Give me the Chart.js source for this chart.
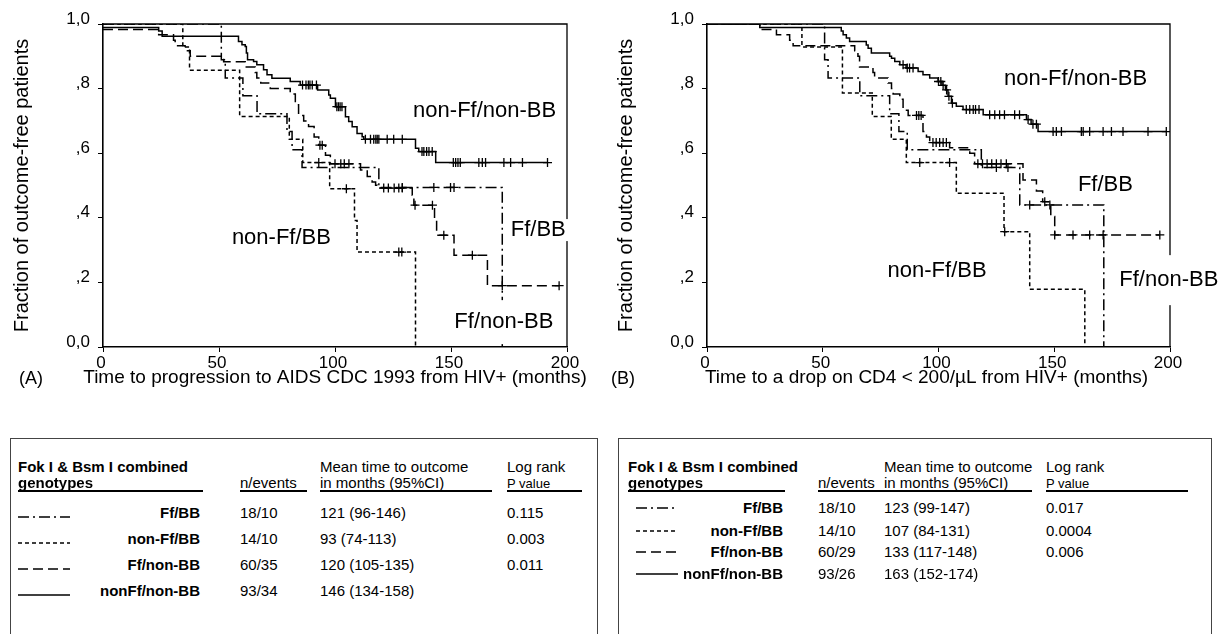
<!DOCTYPE html>
<html>
<head>
<meta charset="utf-8">
<script src="https://cdn.jsdelivr.net/npm/chart.js@4.4.0/dist/chart.umd.min.js"></script>
<style>
  body { margin: 0; background: #fff; }
  #page { position: relative; width: 1221px; height: 634px; overflow: hidden;
          font-family: "Liberation Sans", Arial, sans-serif; color: #000; }
  .panel { position: absolute; top: 0; height: 400px; }
  .tag { position: absolute; font-size: 18px; transform: translateY(-50%); }
  .tbl { position: absolute; top: 438px; height: 220px; border: 1.5px solid #444; box-sizing: border-box; }
  .t { position: absolute; font-size: 15px; white-space: nowrap; line-height: 17px; transform: translateY(-50%); }
  .b { font-weight: bold; }
  .r { transform: translate(-100%, -50%); }
  .small { font-size: 13px; }
  .rule { position: absolute; height: 1.5px; background: #000; }
</style>
</head>
<body>
<div id="page">
  <div class="panel" style="left:0;width:600px"><canvas id="chartA"></canvas></div>
  <div class="panel" style="left:604px;width:617px"><canvas id="chartB"></canvas></div>
  <div class="tag" style="left:19px;top:378px">(A)</div>
  <div class="tag" style="left:611px;top:378px">(B)</div>
  <div class="tbl" style="left:10px;width:588px"></div>
  <div class="tbl" style="left:618px;width:594px"></div>
</div>
<script>
// ---------------- data ----------------
// t = event times (months), s = survival level after that time, c = censor times

// (A) progression to AIDS
const aFfBB_t = [0, 51, 52.7, 60.3, 66.4, 79.3, 81.5, 85.8, 118.9, 172.1];
const aFfBB_s = [1, 0.889, 0.833, 0.778, 0.722, 0.667, 0.611, 0.556, 0.494, 0];
const aFfBB_c = [129, 142.6, 149.8, 151.3];

const aNonFfBB_t = [0, 34.4, 37.3, 58.9, 80.3, 86.1, 97.7, 108.4, 109.5, 134.7];
const aNonFfBB_s = [1, 0.929, 0.857, 0.714, 0.643, 0.571, 0.49, 0.392, 0.294, 0];
const aNonFfBB_c = [93, 104.9, 127.5, 128.8];

const aFfNonBB_t = [0, 24, 30.4, 31.1, 35.4, 37.6, 52, 61.3, 65.6, 66.3, 68, 72.1, 80.7, 82.9, 84.3, 86.5,
  88.6, 91, 93, 95.9, 98, 111, 113.9, 116, 117.5, 118.2, 133.3, 134, 142.9, 143.8, 151.3, 165.7];
const aFfNonBB_s = [0.983, 0.967, 0.95, 0.933, 0.917, 0.9, 0.883, 0.867, 0.85, 0.833, 0.817, 0.8, 0.783, 0.75, 0.717, 0.7,
  0.683, 0.65, 0.625, 0.594, 0.567, 0.548, 0.528, 0.511, 0.501, 0.492, 0.47, 0.439, 0.393, 0.346, 0.284, 0.19];
const aFfNonBB_c = [93.5, 94.5, 100, 102.5, 104, 106, 121, 123, 125.5, 127.5, 129, 134.5, 142, 146.9, 159.2, 172.1, 196.6];

const aNonFfNonBB_t = [0, 24, 25.5, 58.4, 59.9, 61.3, 61.8, 62.3, 64.9, 66.3, 69.2, 70.7, 72.8, 80.7, 85, 92.5, 97.3,
  98, 100.2, 104.5, 105.9, 107.4, 109.5, 111.7, 112.4, 134.7, 136.1, 143.4];
const aNonFfNonBB_s = [0.989, 0.978, 0.962, 0.946, 0.936, 0.93, 0.91, 0.889, 0.884, 0.874, 0.858, 0.843, 0.832, 0.822,
  0.811, 0.796, 0.78, 0.77, 0.744, 0.713, 0.698, 0.682, 0.661, 0.651, 0.643, 0.615, 0.605, 0.571];
const aNonFfNonBB_c = [86, 87.5, 88.5, 89.2, 90.2, 92, 100.8, 101.5, 102.2, 103, 113.1, 115.3, 116.7, 117.6, 118.2,
  118.9, 122.5, 125.3, 129, 137.5, 138.3, 139.5, 140.5, 141.9, 151, 152, 153, 154, 162, 163.5, 164.9, 172.8, 175.7,
  180.8, 191.6];

// (B) drop of CD4 < 200/uL
const bFfBB_t = [0, 50.8, 52.3, 66, 78.9, 82.9, 86.5, 118.5, 135.1, 171.4];
const bFfBB_s = [1, 0.889, 0.833, 0.778, 0.722, 0.667, 0.611, 0.556, 0.44, 0];
const bFfBB_c = [125, 130, 139.4, 148.1];

const bNonFfBB_t = [0, 41, 58.5, 71.4, 79.6, 86.1, 107.7, 128.3, 139.4, 163.2];
const bNonFfBB_s = [1, 0.929, 0.786, 0.714, 0.643, 0.571, 0.476, 0.357, 0.179, 0];
const bNonFfBB_c = [91.9, 104.8, 128.6];

const bFfNonBB_t = [0, 22.8, 30, 35.7, 37.2, 63.8, 65.2, 65.9, 71.7, 72.4, 78.2, 79.7, 80.4, 83.3, 84.7, 86.9, 93.3,
  94.8, 96.2, 104.8, 113.5, 115.6, 136.5, 142.3, 145, 148.5, 150.2];
const bFfNonBB_s = [1, 0.983, 0.967, 0.95, 0.933, 0.917, 0.9, 0.867, 0.85, 0.833, 0.817, 0.8, 0.783, 0.767, 0.733,
  0.717, 0.667, 0.65, 0.633, 0.617, 0.6, 0.567, 0.517, 0.483, 0.45, 0.404, 0.347];
const bFfNonBB_c = [90.5, 91.5, 92.5, 97.6, 99, 100.5, 102, 103.4, 117, 119, 121, 123, 125, 127, 129.3, 145.9, 150.2,
  158.1, 165.3, 171.1, 195.6];

const bNonFfNonBB_t = [0, 22.8, 58, 58.8, 60.2, 61.6, 68.8, 69.6, 71, 78.9, 79.7, 81.1, 83.3, 86, 91.2, 93.3, 96.2,
  99.8, 101.5, 103, 104.1, 105.6, 107.7, 110.6, 119.3, 138, 140, 143];
const bNonFfNonBB_s = [1, 0.989, 0.978, 0.967, 0.957, 0.946, 0.935, 0.925, 0.91, 0.9, 0.894, 0.884, 0.874, 0.864,
  0.853, 0.843, 0.833, 0.822, 0.81, 0.796, 0.776, 0.755, 0.745, 0.735, 0.719, 0.704, 0.69, 0.667];
const bNonFfNonBB_c = [84.7, 86.5, 87.5, 89, 100, 101, 102, 103.5, 104.5, 106, 112, 113.5, 115, 116, 117.5, 122.1,
  124.3, 126.4, 128.5, 132.9, 135, 138.7, 140.8, 142.3, 149.5, 150.9, 153.1, 161.7, 162.5, 165.3, 171.1, 174.7,
  179.7, 190.5, 198.4];

const yTickLabels = ['0,0', ',2', ',4', ',6', ',8', '1,0'];
const yTitle = 'Fraction of outcome-free patients';
const xTitleA = 'Time to progression to AIDS CDC 1993 from HIV+ (months)';
const xTitleB = 'Time to a drop on CD4 < 200/\u00b5L from HIV+ (months)';

// table content
const tblGeno = ['Ff/BB', 'non-Ff/BB', 'Ff/non-BB', 'nonFf/non-BB'];
const plotNames = ['Ff/BB', 'non-Ff/BB', 'Ff/non-BB', 'non-Ff/non-BB'];
const tblA_n = ['18/10', '14/10', '60/35', '93/34'];
const tblA_mean = ['121 (96-146)', '93 (74-113)', '120 (105-135)', '146 (134-158)'];
const tblA_p = ['0.115', '0.003', '0.011', ''];
const tblB_n = ['18/10', '14/10', '60/29', '93/26'];
const tblB_mean = ['123 (99-147)', '107 (84-131)', '133 (117-148)', '163 (152-174)'];
const tblB_p = ['0.017', '0.0004', '0.006', ''];

// line styles, same order as the genotypes
const dashes = [[11, 4, 2, 4], [4, 3], [10, 5], []];

// ---------------- helpers ----------------
function levelAt(t, s, x) {
  let v = s[0];
  for (let i = 0; i < t.length; i++) if (t[i] <= x) v = s[i];
  return v;
}
function kmLine(t, s, c) {
  const pts = t.map((x, i) => ({ x: x, y: s[i] }));
  const end = Math.max(t[t.length - 1], ...c);
  if (end > t[t.length - 1]) pts.push({ x: end, y: s[s.length - 1] });
  return pts;
}
function kmCens(t, s, c) {
  return c.map(x => ({ x: x, y: levelAt(t, s, x) }));
}

const FONT = '"Liberation Sans", Arial, sans-serif';
Chart.defaults.font.family = FONT;
Chart.defaults.color = '#000';

// frame on top/right, x title (not squeezed to the axis width), text labels with a white box behind
const plotText = {
  id: 'plotText',
  afterDatasetsDraw(chart, args, opts) {
    const { ctx, chartArea: a, scales } = chart;
    ctx.save();
    ctx.strokeStyle = '#000';
    ctx.lineWidth = 1.3;
    ctx.beginPath();
    ctx.moveTo(a.left, a.top);
    ctx.lineTo(a.right, a.top);
    ctx.lineTo(a.right, a.bottom);
    ctx.stroke();
    ctx.textAlign = 'center';
    ctx.textBaseline = 'middle';
    ctx.fillStyle = '#000';
    ctx.font = '19px ' + FONT;
    ctx.fillText(opts.title, (a.left + a.right) / 2 + opts.titleShift, a.bottom + 31);
    ctx.font = '22px ' + FONT;
    (opts.items || []).forEach(l => {
      const px = scales.x.getPixelForValue(l.x);
      const py = scales.y.getPixelForValue(l.y);
      const w = ctx.measureText(l.text).width;
      ctx.fillStyle = '#fff';
      ctx.fillRect(px - w / 2 - 3, py - l.padY, w + 6, l.padY * 2);
      ctx.fillStyle = '#000';
      ctx.fillText(l.text, px, py);
    });
    ctx.restore();
  }
};

function makeChart(id, curves, xTitle, titleShift, items, rightPad) {
  const datasets = [];
  curves.forEach((cv, i) => {
    datasets.push({
      data: kmLine(cv[0], cv[1], cv[2]), stepped: 'before', borderColor: '#000', borderWidth: 1.5,
      borderDash: dashes[i], pointRadius: 0, fill: false, order: 2
    });
    datasets.push({
      data: kmCens(cv[0], cv[1], cv[2]), showLine: false, pointStyle: 'cross', pointRadius: 4.5,
      pointBorderColor: '#000', pointBorderWidth: 1.3, order: 1
    });
  });
  return new Chart(document.getElementById(id), {
    type: 'line',
    data: { datasets: datasets },
    plugins: [plotText],
    options: {
      responsive: true,
      maintainAspectRatio: false,
      animation: false,
      layout: { padding: { top: 24, right: rightPad, bottom: 10, left: 0 } },
      plugins: {
        legend: { display: false }, tooltip: { enabled: false },
        plotText: { items: items, title: xTitle, titleShift: titleShift }
      },
      scales: {
        x: {
          type: 'linear', min: 0, max: 200,
          afterFit: s => { s.height = 43; },
          ticks: { stepSize: 50, font: { size: 17 }, padding: 1, maxRotation: 0, color: '#000', labelOffset: -2 },
          grid: { drawOnChartArea: false, tickLength: 5, color: '#000' },
          border: { color: '#000', width: 1.6 }
        },
        y: {
          min: 0, max: 1,
          afterFit: s => { s.width = 103; },
          ticks: { stepSize: 0.2, font: { size: 17 }, padding: 8, color: '#000', labelOffset: -5,
                   callback: v => yTickLabels[Math.round(v * 5)] },
          grid: { drawOnChartArea: false, tickLength: 5, color: '#000' },
          border: { color: '#000', width: 1.6 },
          title: { display: true, text: yTitle, font: { size: 20 }, padding: { top: 10, bottom: 0 }, color: '#000' }
        }
      }
    }
  });
}

makeChart('chartA', [
  [aFfBB_t, aFfBB_s, aFfBB_c],
  [aNonFfBB_t, aNonFfBB_s, aNonFfBB_c],
  [aFfNonBB_t, aFfNonBB_s, aFfNonBB_c],
  [aNonFfNonBB_t, aNonFfNonBB_s, aNonFfNonBB_c]
], xTitleA, 0, [
  { text: plotNames[3], x: 164.5, y: 0.731, padY: 11 },
  { text: plotNames[1], x: 76.9, y: 0.337, padY: 11 },
  { text: plotNames[0], x: 187.6, y: 0.362, padY: 11 },
  { text: plotNames[2], x: 172.8, y: 0.077, padY: 22 }
], 33);

makeChart('chartB', [
  [bFfBB_t, bFfBB_s, bFfBB_c],
  [bNonFfBB_t, bNonFfBB_s, bNonFfBB_c],
  [bFfNonBB_t, bFfNonBB_s, bFfNonBB_c],
  [bNonFfNonBB_t, bNonFfNonBB_s, bNonFfNonBB_c]
], xTitleB, -12, [
  { text: plotNames[3], x: 159.2, y: 0.83, padY: 11 },
  { text: plotNames[0], x: 172.1, y: 0.502, padY: 11 },
  { text: plotNames[1], x: 99.4, y: 0.236, padY: 11 },
  { text: plotNames[2], x: 199.5, y: 0.207, padY: 25 }
], 51);

// ---------------- the two summary tables ----------------
const page = document.getElementById('page');
function txt(s, x, y, cls) {
  const d = document.createElement('div');
  d.className = 't ' + (cls || '');
  d.textContent = s;
  d.style.left = x + 'px';
  d.style.top = y + 'px';
  page.appendChild(d);
}
function rule(x1, x2, y) {
  const d = document.createElement('div');
  d.className = 'rule';
  d.style.left = x1 + 'px';
  d.style.width = (x2 - x1) + 'px';
  d.style.top = y + 'px';
  page.appendChild(d);
}
function sample(x1, x2, y, dash) {
  const ns = 'http://www.w3.org/2000/svg';
  const svg = document.createElementNS(ns, 'svg');
  svg.setAttribute('width', x2 - x1);
  svg.setAttribute('height', 4);
  svg.style.position = 'absolute';
  svg.style.left = x1 + 'px';
  svg.style.top = (y - 2) + 'px';
  const ln = document.createElementNS(ns, 'line');
  ln.setAttribute('x1', 0); ln.setAttribute('x2', x2 - x1);
  ln.setAttribute('y1', 2); ln.setAttribute('y2', 2);
  ln.setAttribute('stroke', '#000'); ln.setAttribute('stroke-width', 1.3);
  if (dash.length) ln.setAttribute('stroke-dasharray', dash.join(','));
  svg.appendChild(ln);
  page.appendChild(svg);
}
function table(L, nArr, meanArr, pArr) {
  txt('Fok I & Bsm I combined', L.x0, L.h1, 'b');
  txt('genotypes', L.x0, L.h2, 'b');
  txt('n/events', L.xn, L.h2);
  txt('Mean time to outcome', L.xm, L.h1);
  txt('in months (95%CI)', L.xm, L.h2);
  txt('Log rank', L.xp, L.h1);
  txt('P value', L.xp, L.h2 + 1, 'small');
  rule(L.x0, L.u0, L.hu); rule(L.xn, L.un, L.hu); rule(L.xm, L.um, L.hu); rule(L.xp, L.up, L.hu);
  tblGeno.forEach((g, i) => {
    const y = L.rows[i];
    sample(L.s0, L.s1, y + L.sOff, dashes[i]);
    txt(g, L.lr, y, 'b r');
    txt(nArr[i], L.xn, y);
    txt(meanArr[i], L.xm, y);
    if (pArr[i]) txt(pArr[i], L.xp, y);
  });
}
table({ x0: 18, u0: 203, xn: 240, un: 307, xm: 320, um: 492, xp: 507, up: 582, h1: 466, h2: 482, hu: 490,
        rows: [512, 538, 564, 590], s0: 18, s1: 70, sOff: 5, lr: 200 }, tblA_n, tblA_mean, tblA_p);
table({ x0: 628, u0: 785, xn: 818, un: 890, xm: 884, um: 1032, xp: 1046, up: 1188, h1: 466, h2: 482, hu: 490,
        rows: [507, 530, 551, 573], s0: 636, s1: 678, sOff: 1, lr: 783 }, tblB_n, tblB_mean, tblB_p);
</script>
</body>
</html>
